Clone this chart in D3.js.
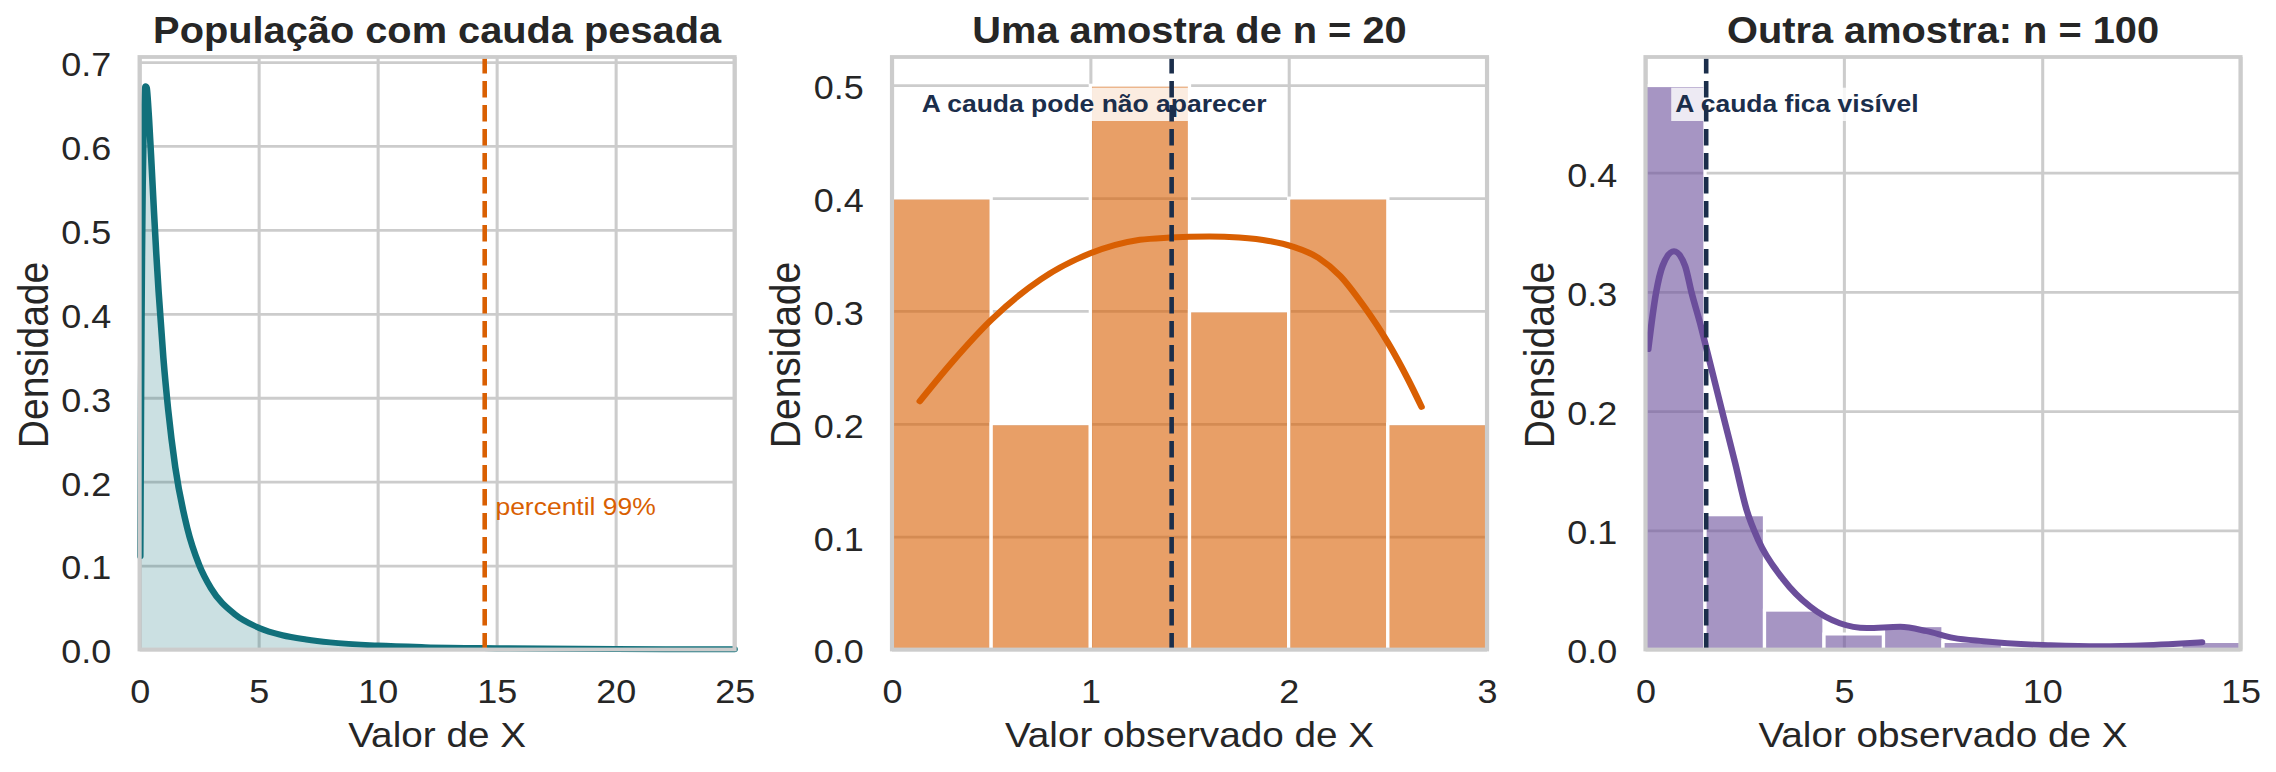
<!DOCTYPE html>
<html>
<head>
<meta charset="utf-8">
<script src="https://cdn.jsdelivr.net/npm/d3@7"></script>
<style>
  body { margin: 0; background: #ffffff; }
  svg text { font-family: "Liberation Sans", Arial, sans-serif; }
</style>
</head>
<body>
<div id="chart"></div>
<script>
// ---- Painel 1: população com cauda pesada (curva)
var popX = [0.03, 0.04, 0.05, 0.06, 0.08, 0.10, 0.13, 0.16, 0.20, 0.25, 0.30, 0.35, 0.40, 0.50, 0.60, 0.70, 0.80,
            1.0, 1.2, 1.5, 2.0, 2.5, 3.0, 4.0, 5.0, 6.0, 7.0, 8.0, 10, 12, 15, 20, 25];
var popY = [0.111, 0.173, 0.233, 0.290, 0.389, 0.467, 0.553, 0.609, 0.652, 0.671, 0.669, 0.653, 0.631, 0.579, 0.524, 0.472, 0.426,
            0.347, 0.286, 0.217, 0.145, 0.101, 0.073, 0.042, 0.026, 0.017, 0.012, 0.0085, 0.0047, 0.0028, 0.0015, 0.0006, 0.0003];
var popP99 = 14.5;
var popXTicks = [0, 5, 10, 15, 20, 25];
var popYTicks = [0, 0.1, 0.2, 0.3, 0.4, 0.5, 0.6, 0.7];

// ---- Painel 2: amostra n = 20
var n20Edges = [0, 0.5, 1, 1.5, 2, 2.5, 3];
var n20Density = [0.4, 0.2, 0.5, 0.3, 0.4, 0.2];
var n20KdeX = [0.14, 0.3, 0.5, 0.75, 1.0, 1.25, 1.4, 1.6, 1.75, 1.9, 2.02, 2.15, 2.26, 2.38, 2.5, 2.6, 2.67];
var n20KdeY = [0.220, 0.254, 0.292, 0.328, 0.351, 0.363, 0.365, 0.366, 0.365, 0.362, 0.357, 0.347, 0.331, 0.304, 0.272, 0.240, 0.215];
var n20Mean = 1.41;
var n20XTicks = [0, 1, 2, 3];
var n20YTicks = [0, 0.1, 0.2, 0.3, 0.4, 0.5];

// ---- Painel 3: amostra n = 100
var n100Edges = [0, 1.5, 3, 4.5, 6, 7.5, 9, 10.5, 12, 13.5, 15];
var n100Density = [0.473, 0.113, 0.033, 0.013, 0.020, 0.0067, 0, 0, 0, 0.0067];
var n100KdeX = [0.07, 0.265, 0.433, 0.718, 0.996, 1.164, 1.374, 1.54, 1.96, 2.256, 2.55, 2.84, 3.47, 4.15, 4.90,
                5.58, 6.42, 7.09, 7.76, 8.52, 9.69, 10.21, 11.42, 12.64, 13.4, 14.03];
var n100KdeY = [0.252, 0.299, 0.322, 0.334, 0.322, 0.299, 0.274, 0.252, 0.196, 0.157, 0.117, 0.092, 0.059, 0.036, 0.022,
                0.018, 0.019, 0.0154, 0.0098, 0.007, 0.0042, 0.0036, 0.0028, 0.0036, 0.0048, 0.0061];
var n100Mean = 1.53;
var n100XTicks = [0, 5, 10, 15];
var n100YTicks = [0, 0.1, 0.2, 0.3, 0.4];

// Colours
var tealColor = "#11707b";
var orangeColor = "#d95f02";
var purpleColor = "#6b4e9b";
var navyColor = "#1b2e4b";
var textColor = "#262626";
var gridColor = "#cccccc";

// Page size; the reference is drawn a little wider than tall, so stretch x
var svgWidth = 2276;
var svgHeight = 772;
var sx = 1.09;

var plotTop = 57;
var plotBottom = 649.5;
var panelWidth = 595;

var svg = d3.select("#chart")
  .append("svg")
  .attr("width", svgWidth)
  .attr("height", svgHeight);

svg.append("rect")
  .attr("width", svgWidth)
  .attr("height", svgHeight)
  .attr("fill", "#ffffff");

var root = svg.append("g")
  .attr("transform", `scale(${sx}, 1)`);

// Set up one panel: grid, layers, and returns scales
function makePanel(cfg) {
  var left = cfg.left / sx;
  var width = panelWidth / sx;
  var x = d3.scaleLinear().domain(cfg.xDomain).range([left, left + width]);
  var y = d3.scaleLinear().domain([0, cfg.yMax]).range([plotBottom, plotTop]);

  var gridGroup = root.append("g");
  gridGroup.append("g")
    .attr("transform", `translate(0, ${plotBottom})`)
    .call(d3.axisBottom(x).tickValues(cfg.xTicks).tickSize(-(plotBottom - plotTop)).tickFormat(""))
    .call(g => g.select(".domain").remove());
  gridGroup.append("g")
    .attr("transform", `translate(${left}, 0)`)
    .call(d3.axisLeft(y).tickValues(cfg.yTicks).tickSize(-width).tickFormat(""))
    .call(g => g.select(".domain").remove());
  gridGroup.selectAll(".tick line")
    .attr("stroke", gridColor)
    .attr("stroke-width", 2.8);

  var markGroup = root.append("g");
  var topGroup = root.append("g");

  return { x: x, y: y, left: left, width: width, marks: markGroup, top: topGroup, cfg: cfg };
}

// Frame, tick labels, axis labels, title (drawn last, on top)
function finishPanel(p) {
  var cfg = p.cfg;
  p.top.append("rect")
    .attr("x", p.left)
    .attr("y", plotTop)
    .attr("width", p.width)
    .attr("height", plotBottom - plotTop)
    .attr("fill", "none")
    .attr("stroke", gridColor)
    .attr("stroke-width", 3.8);

  var xAxis = p.top.append("g")
    .attr("transform", `translate(0, ${plotBottom})`)
    .call(d3.axisBottom(p.x).tickValues(cfg.xTicks).tickSize(0).tickPadding(30.4).tickFormat(d3.format("d")));
  var yAxis = p.top.append("g")
    .attr("transform", `translate(${p.left}, 0)`)
    .call(d3.axisLeft(p.y).tickValues(cfg.yTicks).tickSize(0).tickPadding(26).tickFormat(d3.format(".1f")));
  [xAxis, yAxis].forEach(function(a) {
    a.select(".domain").remove();
    a.selectAll("text")
      .attr("fill", textColor)
      .style("font-size", "33px");
  });
  yAxis.selectAll("text").attr("dy", "0.405em");

  var cx = p.left + p.width / 2;
  p.top.append("text")
    .attr("x", cx)
    .attr("y", 746.7)
    .attr("text-anchor", "middle")
    .attr("fill", textColor)
    .style("font-size", "35.5px")
    .text(cfg.xLabel);

  p.top.append("text")
    .attr("transform", `translate(${p.left - 84}, 355) rotate(-90)`)
    .attr("text-anchor", "middle")
    .attr("fill", textColor)
    .style("font-size", "39px")
    .text("Densidade");

  p.top.append("text")
    .attr("x", cx)
    .attr("y", 43.3)
    .attr("text-anchor", "middle")
    .attr("fill", textColor)
    .style("font-size", "36.5px")
    .style("font-weight", "bold")
    .text(cfg.title);
}

function dashedLine(p, value, color) {
  p.marks.append("line")
    .attr("x1", p.x(value))
    .attr("x2", p.x(value))
    .attr("y1", p.y(0))
    .attr("y2", p.y(p.cfg.yMax))
    .attr("stroke", color)
    .attr("stroke-width", 4.2)
    .attr("stroke-dasharray", "16.5,7.5");
}

function drawBars(p, edges, dens, color) {
  p.marks.selectAll(null)
    .data(dens)
    .enter()
    .append("rect")
    .attr("x", (d, i) => p.x(edges[i]))
    .attr("width", (d, i) => p.x(edges[i + 1]) - p.x(edges[i]))
    .attr("y", d => p.y(d))
    .attr("height", d => p.y(0) - p.y(d))
    .attr("fill", color)
    .attr("fill-opacity", 0.6)
    .attr("stroke", "#ffffff")
    .attr("stroke-width", 3);
}

function drawKde(p, xs, ys, color) {
  var line = d3.line()
    .x(d => p.x(d[0]))
    .y(d => p.y(d[1]))
    .curve(d3.curveMonotoneX);
  p.marks.append("path")
    .datum(d3.zip(xs, ys))
    .attr("d", line)
    .attr("fill", "none")
    .attr("stroke", color)
    .attr("stroke-width", 6)
    .attr("stroke-linecap", "round")
    .attr("stroke-linejoin", "round");
}

// Note box in axes fraction (0.05, 0.95)
function noteBox(p, label) {
  var tx = p.left + 0.05 * p.width;
  var rect = p.marks.append("rect");
  var txt = p.marks.append("text")
    .attr("x", tx)
    .attr("y", 111.7)
    .attr("fill", navyColor)
    .style("font-size", "24.3px")
    .style("font-weight", "bold")
    .text(label);
  var w = txt.node().getComputedTextLength();
  rect.attr("x", tx - 3.7)
    .attr("y", 87.7)
    .attr("width", w + 7.4)
    .attr("height", 33.3)
    .attr("fill", "#ffffff")
    .attr("fill-opacity", 0.8);
  return txt;
}

// ---------------- Panel 1
var p1 = makePanel({
  left: 139.6, xDomain: [0, 25], yMax: 0.706, xTicks: popXTicks, yTicks: popYTicks,
  xLabel: "Valor de X", title: "População com cauda pesada"
});
var popData = d3.zip(popX, popY);
p1.marks.append("path")
  .datum(popData)
  .attr("d", d3.area().x(d => p1.x(d[0])).y0(p1.y(0)).y1(d => p1.y(d[1])).curve(d3.curveMonotoneX))
  .attr("fill", tealColor)
  .attr("fill-opacity", 0.22);
drawKde(p1, popX, popY, tealColor);
dashedLine(p1, popP99, orangeColor);
p1.marks.append("text")
  .attr("x", p1.x(popP99 + 0.45))
  .attr("y", p1.y(0.16))
  .attr("fill", orangeColor)
  .style("font-size", "24.3px")
  .text("percentil 99%");
finishPanel(p1);

// ---------------- Panel 2
var p2 = makePanel({
  left: 892, xDomain: [0, 3], yMax: 0.525, xTicks: n20XTicks, yTicks: n20YTicks,
  xLabel: "Valor observado de X", title: "Uma amostra de n = 20"
});
drawBars(p2, n20Edges, n20Density, orangeColor);
drawKde(p2, n20KdeX, n20KdeY, orangeColor);
var t2 = noteBox(p2, "A cauda pode não aparecer");
dashedLine(p2, n20Mean, navyColor);
t2.raise();
finishPanel(p2);

// ---------------- Panel 3
var p3 = makePanel({
  left: 1645.5, xDomain: [0, 15], yMax: 0.497, xTicks: n100XTicks, yTicks: n100YTicks,
  xLabel: "Valor observado de X", title: "Outra amostra: n = 100"
});
drawBars(p3, n100Edges, n100Density, purpleColor);
drawKde(p3, n100KdeX, n100KdeY, purpleColor);
var t3 = noteBox(p3, "A cauda fica visível");
dashedLine(p3, n100Mean, navyColor);
t3.raise();
finishPanel(p3);
</script>
</body>
</html>
